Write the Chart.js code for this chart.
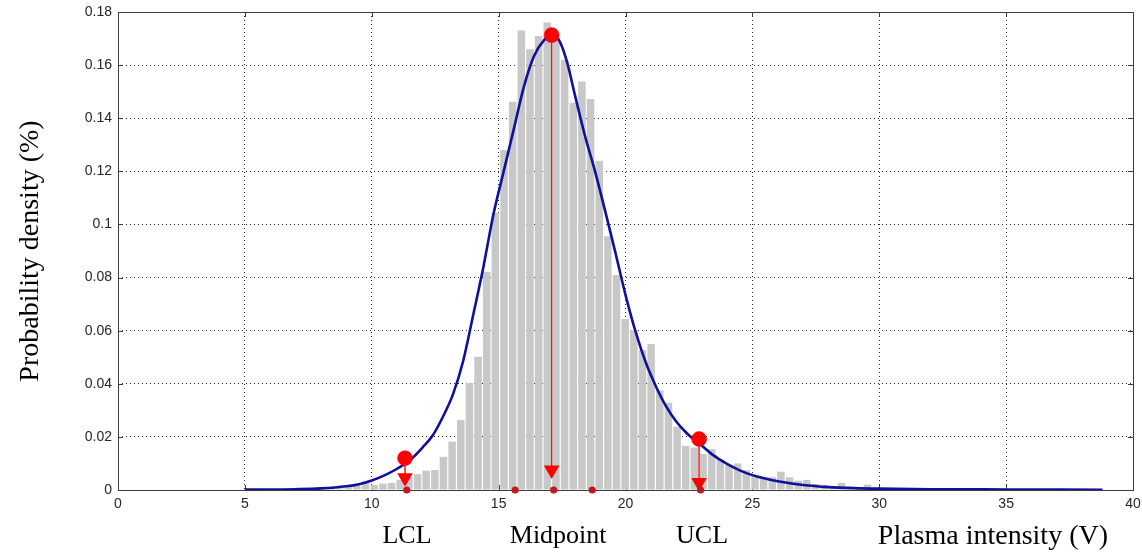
<!DOCTYPE html>
<html>
<head>
<meta charset="utf-8">
<script src="https://cdn.jsdelivr.net/npm/chart.js@4.4.1/dist/chart.umd.min.js"></script>
<style>
html,body{margin:0;padding:0;background:#ffffff;}
#wrap{width:1142px;height:556px;}
</style>
</head>
<body>
<div id="wrap"><canvas id="c" width="1142" height="556"></canvas></div>
<script>
// ---- Data ----
const binCenters = [
  7.029, 7.370, 7.711, 8.052, 8.393, 8.734, 9.075, 9.416, 9.757, 10.098,
  10.439, 10.780, 11.121, 11.462, 11.803, 12.144, 12.485, 12.826, 13.167, 13.508,
  13.849, 14.190, 14.531, 14.872, 15.213, 15.554, 15.895, 16.236, 16.577, 16.918,
  17.259, 17.600, 17.941, 18.282, 18.623, 18.964, 19.305, 19.646, 19.987, 20.328,
  20.669, 21.010, 21.351, 21.692, 22.033, 22.374, 22.715, 23.056, 23.397, 23.738,
  24.079, 24.420, 24.761, 25.102, 25.443, 25.784, 26.125, 26.466, 26.807, 27.148,
  27.489, 27.830, 28.171, 28.512, 28.853, 29.194, 29.535, 29.876, 30.217, 30.558
];
const binDensity = [
  0.0004, 0.0006, 0.0008, 0.0005, 0.0009, 0.0007, 0.0012, 0.0016, 0.0031, 0.0019,
  0.0024, 0.0027, 0.0038, 0.0050, 0.0060, 0.0073, 0.0075, 0.0125, 0.0182, 0.0264,
  0.0402, 0.0502, 0.0822, 0.1044, 0.1280, 0.1462, 0.1730, 0.1660, 0.1710, 0.1760,
  0.1700, 0.1620, 0.1458, 0.1538, 0.1472, 0.1240, 0.0956, 0.0810, 0.0644, 0.0602,
  0.0527, 0.0550, 0.0375, 0.0329, 0.0238, 0.0166, 0.0160, 0.0136, 0.0154, 0.0115,
  0.0095, 0.0100, 0.0075, 0.0056, 0.0050, 0.0048, 0.0069, 0.0048, 0.0035, 0.0038,
  0.0023, 0.0020, 0.0015, 0.0027, 0.0013, 0.0010, 0.0020, 0.0008, 0.0005, 0.0004
];
const curveX = [
  5.0, 6.0, 7.0, 8.0, 9.0, 9.5, 10.0, 10.5, 11.0, 11.5, 12.0, 12.4, 12.8, 13.2, 13.6,
  14.0, 14.4, 14.8, 15.2, 15.6, 16.0, 16.4, 16.8, 17.1, 17.4, 17.7, 18.0, 18.4, 18.8,
  19.2, 19.6, 20.0, 20.4, 20.8, 21.2, 21.6, 22.0, 22.3, 22.6, 22.9, 23.4, 24.0, 24.5,
  25.0, 25.5, 26.0, 27.0, 28.0, 29.0, 30.0, 32.0, 35.0, 38.8
];
const curveY = [
  0.0002, 0.0002, 0.0003, 0.0006, 0.0014, 0.0022, 0.0036, 0.0055, 0.0080, 0.0112, 0.0160, 0.0205, 0.0275, 0.0360, 0.0485,
  0.0660, 0.0840, 0.1040, 0.1200, 0.1360, 0.1520, 0.1635, 0.1695, 0.1713, 0.1690, 0.1610, 0.1490, 0.1335, 0.1200,
  0.1050, 0.0895, 0.0735, 0.0595, 0.0480, 0.0390, 0.0315, 0.0258, 0.0225, 0.0198, 0.0176, 0.0135, 0.0098, 0.0074,
  0.0056, 0.0043, 0.0033, 0.0019, 0.0011, 0.0007, 0.0005, 0.0003, 0.0002, 0.0001
];
const limitNames = ['LCL', 'Midpoint', 'UCL'];
const limitX = [11.31, 17.09, 22.90];
const limitY = [0.0120, 0.1713, 0.0192];
const arrowHeadY = [0.0046, 0.0075, 0.0028];
const axisDotX = [11.38, 15.65, 17.17, 18.69, 22.96];
const xTicks = [0, 5, 10, 15, 20, 25, 30, 35, 40];
const yTicks = [0, 0.02, 0.04, 0.06, 0.08, 0.1, 0.12, 0.14, 0.16, 0.18];
const xAxisTitle = 'Plasma intensity (V)';
const yAxisTitle = 'Probability density (%)';

// ---- Build datasets ----
const barData = binCenters.map((x, i) => ({ x: x, y: binDensity[i] }));
const curveData = curveX.map((x, i) => ({ x: x, y: curveY[i] }));
const stemWidths = [1.8, 1.2, 1.8];
const stemColors = ['#ff3b3b', '#ff0000', '#ff3b3b'];

const stemSets = limitX.map((x, i) => ({
  type: 'line',
  data: [{ x: x, y: limitY[i] }, { x: x, y: arrowHeadY[i] }],
  borderColor: stemColors[i],
  borderWidth: stemWidths[i],
  pointRadius: 0,
  fill: false,
  clip: false,
  order: 3
}));

const datasets = [
  {
    type: 'bar',
    data: barData,
    backgroundColor: '#c8c8c8',
    borderWidth: 0,
    barPercentage: 0.87,
    categoryPercentage: 1.0,
    order: 10
  },
  {
    type: 'line',
    data: curveData,
    borderColor: '#10109c',
    borderWidth: 2.6,
    pointRadius: 0,
    tension: 0.4,
    cubicInterpolationMode: 'monotone',
    fill: false,
    order: 5
  },
  ...stemSets,
  {
    type: 'scatter',
    data: limitX.map((x, i) => ({ x: x, y: arrowHeadY[i] })),
    pointStyle: 'triangle',
    pointRotation: 180,
    pointRadius: 9,
    backgroundColor: '#ff0000',
    borderColor: '#ff0000',
    borderWidth: 0,
    clip: false,
    order: 2
  },
  {
    type: 'scatter',
    data: limitX.map((x, i) => ({ x: x, y: limitY[i] })),
    pointStyle: 'circle',
    pointRadius: 7.5,
    backgroundColor: '#ff0000',
    borderColor: '#ff0000',
    borderWidth: 0.5,
    clip: false,
    order: 1
  },
  {
    type: 'scatter',
    data: axisDotX.map(x => ({ x: x, y: 0 })),
    pointStyle: 'circle',
    pointRadius: 3.6,
    backgroundColor: '#bf1820',
    borderColor: '#bf1820',
    borderWidth: 0,
    clip: false,
    order: 0
  }
];

// ---- Plugins: axes box with inner ticks, annotation texts ----
const boxPlugin = {
  id: 'boxPlugin',
  beforeDatasetsDraw(chart) {
    const { ctx, chartArea: a, scales: { x, y } } = chart;
    ctx.save();
    ctx.strokeStyle = '#3c3c3c';
    ctx.lineWidth = 1;
    ctx.strokeRect(Math.round(a.left) + 0.5, Math.round(a.top) + 0.5,
                   Math.round(a.right - a.left), Math.round(a.bottom - a.top));
    ctx.beginPath();
    const len = 5;
    x.ticks.forEach(t => {
      const px = Math.round(x.getPixelForValue(t.value)) + 0.5;
      ctx.moveTo(px, a.bottom); ctx.lineTo(px, a.bottom - len);
      ctx.moveTo(px, a.top); ctx.lineTo(px, a.top + len);
    });
    y.ticks.forEach(t => {
      const py = Math.round(y.getPixelForValue(t.value)) + 0.5;
      ctx.moveTo(a.left, py); ctx.lineTo(a.left + len, py);
      ctx.moveTo(a.right, py); ctx.lineTo(a.right - len, py);
    });
    ctx.stroke();
    ctx.restore();
  },
  afterDraw(chart) {
    const { ctx, chartArea: a, scales: { x } } = chart;
    ctx.save();
    ctx.fillStyle = '#000000';
    ctx.font = '26px "Liberation Serif", "Times New Roman", serif';
    ctx.textBaseline = 'alphabetic';
    ctx.textAlign = 'center';
    const shift = [2, 6.5, 3];
    limitNames.forEach((name, i) => {
      ctx.fillText(name, x.getPixelForValue(limitX[i]) + shift[i], 543);
    });
    ctx.font = '28px "Liberation Serif", "Times New Roman", serif';
    ctx.textAlign = 'right';
    ctx.fillText(xAxisTitle, a.right - 25, 544);
    ctx.restore();
  }
};

const gridColor = c => (c.index === 0 || c.index === c.scale.ticks.length - 1) ? 'rgba(0,0,0,0)' : '#2a2a2a';
const tickFont = { family: '"Liberation Sans", Arial, sans-serif', size: 14 };

new Chart(document.getElementById('c'), {
  type: 'bar',
  data: { datasets: datasets },
  plugins: [boxPlugin],
  options: {
    responsive: false,
    animation: false,
    devicePixelRatio: 1,
    layout: { padding: { left: 14, top: 12, right: 9, bottom: 0 } },
    plugins: { legend: { display: false }, tooltip: { enabled: false } },
    scales: {
      x: {
        type: 'linear',
        min: 0, max: 40,
        offset: false,
        afterBuildTicks(s) { s.ticks = xTicks.map(v => ({ value: v })); },
        afterFit(s) { s.height = 66; s.paddingLeft = 0; s.paddingRight = 0; },
        grid: { offset: false, drawTicks: false, color: gridColor, lineWidth: 1 },
        border: { display: false, dash: [1, 3] },
        ticks: { padding: 6, font: tickFont, color: '#262626', maxRotation: 0, autoSkip: false }
      },
      y: {
        type: 'linear',
        min: 0, max: 0.18,
        beginAtZero: true,
        afterBuildTicks(s) { s.ticks = yTicks.map(v => ({ value: v })); },
        afterFit(s) { s.width = 104; s.paddingTop = 0; s.paddingBottom = 0; },
        grid: { drawTicks: false, color: gridColor, lineWidth: 1 },
        border: { display: false, dash: [1, 3] },
        ticks: {
          padding: 6, font: tickFont, color: '#262626', autoSkip: false,
          callback: v => String(+Number(v).toFixed(2))
        },
        title: {
          display: true,
          text: yAxisTitle,
          color: '#000000',
          font: { family: '"Liberation Serif", "Times New Roman", serif', size: 28 },
          padding: 0
        }
      }
    }
  }
});
</script>
</body>
</html>
